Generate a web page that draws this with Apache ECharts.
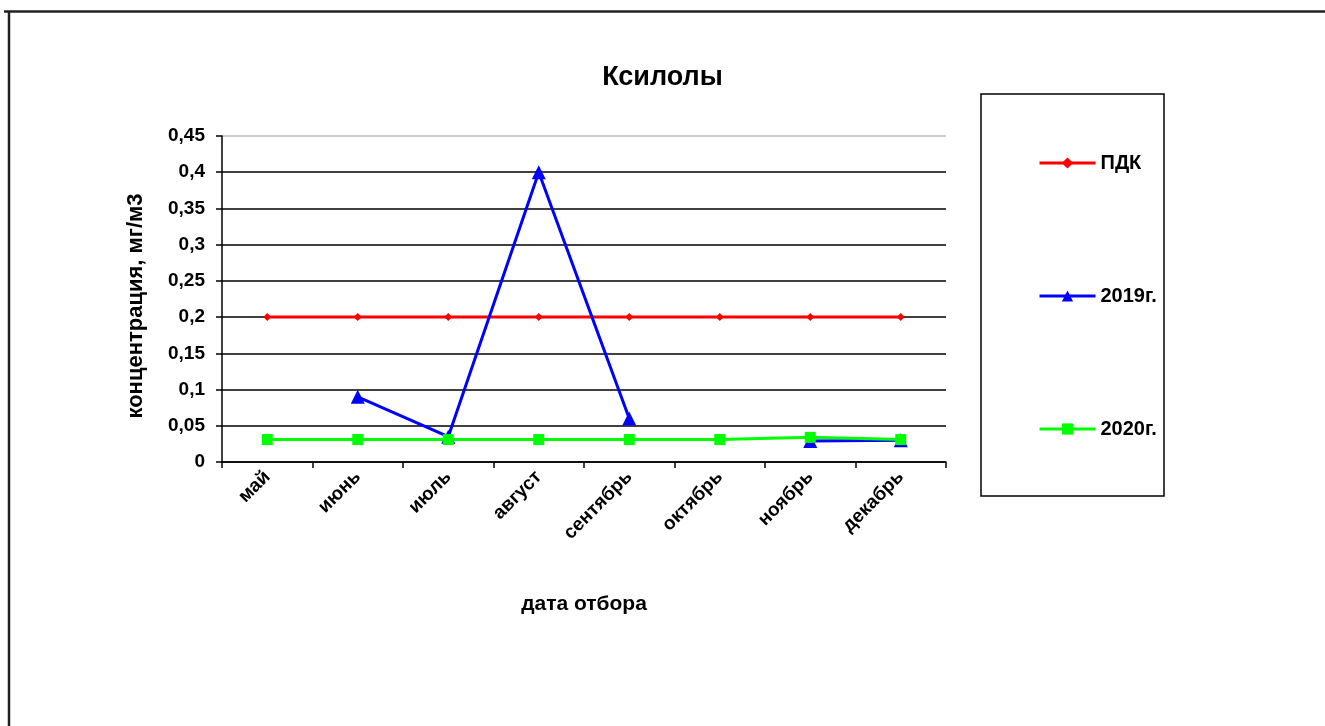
<!DOCTYPE html>
<html>
<head>
<meta charset="utf-8">
<script src="https://cdn.jsdelivr.net/npm/echarts@6/dist/echarts.min.js"></script>
<style>
html,body{margin:0;padding:0;background:#fff;}
#chart{width:1325px;height:726px;}
</style>
</head>
<body>
<div id="chart"></div>
<script>
const categories = ['май','июнь','июль','август','сентябрь','октябрь','ноябрь','декабрь'];
const pdk = [0.2,0.2,0.2,0.2,0.2,0.2,0.2,0.2];
const y2019 = [null,0.09,0.035,0.4,0.06,null,0.029,0.03];
const y2020 = [0.031,0.031,0.031,0.031,0.031,0.031,0.034,0.031];
const yTicks = {min:0,max:0.45,interval:0.05};

const FF = '"Liberation Sans", Arial, sans-serif';
const chart = echarts.init(document.getElementById('chart'));
const gridColors = [];
for (let i=0;i<9;i++) gridColors.push('#000');
gridColors.push('#bbb');

chart.setOption({
  animation:false,
  backgroundColor:'#fff',
  title:{
    text:'Ксилолы',
    left:'center',
    top:59,
    textStyle:{fontFamily:FF,fontWeight:'bold',fontSize:27,color:'#000'}
  },
  legend:{
    orient:'vertical',
    left:1038,
    top:153,
    padding:0,
    itemWidth:56,
    itemHeight:14,
    itemGap:113,
    lineStyle:{width:3},
    textStyle:{fontFamily:FF,fontWeight:'bold',fontSize:20,color:'#000'},
    data:['ПДК','2019г.','2020г.']
  },
  grid:{left:222,right:379,top:136,bottom:264,containLabel:false},
  xAxis:{
    type:'category',
    data:categories,
    boundaryGap:true,
    name:'дата отбора',
    nameLocation:'middle',
    nameGap:132,
    nameTextStyle:{fontFamily:FF,fontWeight:'bold',fontSize:21,color:'#000'},
    axisLine:{lineStyle:{color:'#000',width:1.5}},
    axisTick:{show:true,length:6,lineStyle:{color:'#000',width:1.5}},
    axisLabel:{rotate:45,margin:12,fontFamily:FF,fontWeight:'bold',fontSize:19,color:'#000'},
    splitLine:{show:false}
  },
  yAxis:{
    type:'value',
    min:yTicks.min,max:yTicks.max,interval:yTicks.interval,
    name:'концентрация, мг/м3',
    nameLocation:'middle',
    nameGap:75,
    nameTextStyle:{fontFamily:FF,fontWeight:'bold',fontSize:22,color:'#000',padding:[0,14,0,0]},
    axisLine:{show:true,lineStyle:{color:'#000',width:1.5}},
    axisTick:{show:true,length:6,lineStyle:{color:'#000',width:1.5}},
    axisLabel:{
      fontFamily:FF,fontWeight:'bold',fontSize:19,color:'#000',margin:17,
      formatter:v=>String(+v.toFixed(2)).replace('.',',')
    },
    splitLine:{show:true,lineStyle:{color:gridColors,width:1.5}}
  },
  series:[
    {name:'ПДК',type:'line',data:pdk,color:'#ff0000',
     lineStyle:{width:3,color:'#ff0000'},symbol:'diamond',symbolSize:8,
     itemStyle:{color:'#ff0000'}},
    {name:'2019г.',type:'line',data:y2019,color:'#0000ff',connectNulls:false,
     lineStyle:{width:3,color:'#0000ff'},symbol:'triangle',symbolSize:14,
     itemStyle:{color:'#0000ff'}},
    {name:'2020г.',type:'line',data:y2020,color:'#00ff00',
     lineStyle:{width:3,color:'#00ff00'},symbol:'rect',symbolSize:11,
     itemStyle:{color:'#00ff00'}}
  ],
  graphic:[
    {type:'rect',shape:{x:981,y:94,width:183,height:402},
     style:{fill:'none',stroke:'#000',lineWidth:1.5},z:-1},
    {type:'line',shape:{x1:4,y1:11.5,x2:1325,y2:11.5},style:{stroke:'#222',lineWidth:2.5}},
    {type:'line',shape:{x1:9,y1:11,x2:9,y2:726},style:{stroke:'#222',lineWidth:2.5}}
  ]
});
</script>
</body>
</html>
